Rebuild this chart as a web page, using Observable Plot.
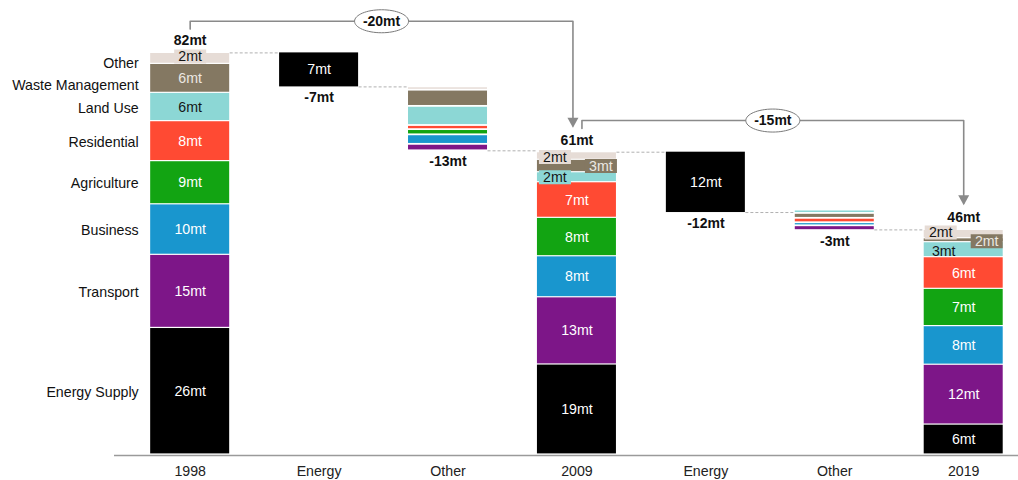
<!DOCTYPE html>
<html>
<head>
<meta charset="utf-8">
<script src="https://cdn.jsdelivr.net/npm/d3@7"></script>
<script src="https://cdn.jsdelivr.net/npm/@observablehq/plot@0.6"></script>
<style>
  body { margin: 0; background: #fff; }
  #chart { width: 1018px; height: 480px; }
</style>
</head>
<body>
<div id="chart"></div>
<script>
// ---------------- DATA ----------------
// sectors, bottom to top of each stacked bar
const categories = ["Energy Supply", "Transport", "Business", "Agriculture", "Residential", "Land Use", "Waste Management", "Other"];
const sectorColors = ["#000000", "#7D1688", "#1996CE", "#12A412", "#FF4A33", "#8CD7D5", "#847862", "#E6DCD6"];
const labelColors  = ["#ffffff", "#ffffff", "#ffffff", "#ffffff", "#ffffff", "#151515", "#ece8e2", "#151515"];

const columns = ["1998", "Energy", "Other", "2009", "Energy", "Other", "2019"];

const values1998 = [25.8, 14.9, 10.3, 8.8, 8.15, 5.77, 5.9, 2.24];
const labels1998 = ["26mt", "15mt", "10mt", "9mt", "8mt", "6mt", "6mt", "2mt"];
const values2009 = [18.35, 13.7, 8.36, 7.83, 7.26, 2.04, 2.53, 1.55];
const labels2009 = ["19mt", "13mt", "8mt", "8mt", "7mt", "2mt", "3mt", "2mt"];
const values2019 = [6.1, 12.2, 7.87, 7.6, 6.45, 3.06, 0.8, 1.7];
const labels2019 = ["6mt", "12mt", "8mt", "7mt", "6mt", "3mt", "2mt", "2mt"];
const totalLabels = ["82mt", "61mt", "46mt"];

const energyChanges = [6.93, 12.3];
const energyLabels = ["7mt", "12mt"];
// "Other" decreases, listed top to bottom
const other1Sectors = ["Other", "Waste Management", "Land Use", "Residential", "Agriculture", "Business", "Transport"];
const other1Values  = [0.67, 3.3, 3.9, 0.84, 1.06, 1.94, 1.32];
const other2Sectors = ["Land Use", "Waste Management", "Residential", "Business", "Transport"];
const other2Values  = [0.68, 1.0, 0.9, 0.62, 0.98];
const changeLabels = ["-7mt", "-13mt", "-12mt", "-3mt"];
const bracketLabels = ["-20mt", "-15mt"];

// ---------------- LAYOUT ----------------
const X_DOMAIN = [-0.587, 6.425], X_RANGE = [114, 1018];
const Y_DOMAIN = [0, 92.54], Y_RANGE = [454, 0];
const PXX = (X_RANGE[1] - X_RANGE[0]) / (X_DOMAIN[1] - X_DOMAIN[0]); // px per x unit
const PXY = (Y_RANGE[0] - Y_RANGE[1]) / (Y_DOMAIN[1] - Y_DOMAIN[0]); // px per y unit
const HALF = 39.5 / PXX;
const colorOf = s => sectorColors[categories.indexOf(s)];
const textColorOf = s => labelColors[categories.indexOf(s)];

// placement of labels of thin segments (px offsets)
const smallLabelPlacement = {
  "0|Other": {dx: 0, dy: -2, box: true},
  "3|Other": {dx: -22, dy: 1, box: true},
  "3|Waste Management": {dx: 24, dy: 0, box: true},
  "3|Land Use": {dx: -22, dy: 0, box: true},
  "6|Other": {dx: -23, dy: -1.5, box: true},
  "6|Waste Management": {dx: 23, dy: 1, box: true},
  "6|Land Use": {dx: -20, dy: 2, box: false}
};
const leftLabelDy = {"Other": 4, "Waste Management": 6};

// ---------------- BUILD ----------------
const segs = [];
function addTotal(col, vals, labs) {
  let c = 0;
  vals.forEach((v, i) => { segs.push({col, sector: categories[i], y1: c, y2: c + v, label: labs[i], kind: "total"}); c += v; });
  return c;
}
function addDown(col, sectors, vals, start) {
  let c = start;
  sectors.forEach((s, i) => { segs.push({col, sector: s, y1: c - vals[i], y2: c, kind: "change"}); c -= vals[i]; });
  return c;
}
const t1998 = addTotal(0, values1998, labels1998);
const e1End = addDown(1, ["Energy Supply"], [energyChanges[0]], t1998);
const o1End = addDown(2, other1Sectors, other1Values, e1End);
const t2009 = addTotal(3, values2009, labels2009);
const e2End = addDown(4, ["Energy Supply"], [energyChanges[1]], t2009);
const o2End = addDown(5, other2Sectors, other2Values, e2End + 0.5);
const t2019 = addTotal(6, values2019, labels2019);

const connectorLevels = [t1998, e1End, o1End, t2009, e2End, t2019];
const connectors = connectorLevels.map((y, i) => ({x1: i + HALF, x2: i + 1 - HALF, y}));

const totals = [{col: 0, y: t1998, label: totalLabels[0]}, {col: 3, y: t2009, label: totalLabels[1]}, {col: 6, y: t2019, label: totalLabels[2]}];
const changes = [{col: 1, y: e1End, label: changeLabels[0]}, {col: 2, y: o1End, label: changeLabels[1]},
                 {col: 4, y: e2End, label: changeLabels[2]}, {col: 5, y: o2End, label: changeLabels[3]}];
const energyInner = [{col: 1, y: (t1998 + e1End) / 2, label: energyLabels[0]}, {col: 4, y: (t2009 + e2End) / 2, label: energyLabels[1]}];

// segment labels
const segLabels = segs.filter(d => d.kind === "total").map(d => {
  const p = smallLabelPlacement[d.col + "|" + d.sector];
  return {
    x: d.col + (p ? p.dx / PXX : 0),
    y: (d.y1 + d.y2) / 2 - (p ? p.dy / PXY : 0),
    label: d.label,
    color: textColorOf(d.sector),
    box: p && p.box ? colorOf(d.sector) : null
  };
});
const leftLabels = segs.filter(d => d.col === 0).map(d => ({
  y: (d.y1 + d.y2) / 2 - (1 + (leftLabelDy[d.sector] || 0)) / PXY,
  label: d.sector
}));

// brackets
const BR_START = 4.85, BR_LINE = 6.45, BR_TIP = 5.0;
const bracketDefs = [
  {from: 0, to: 3, fromTop: t1998, toTop: t2009, fdx: 0, tdx: -4, label: bracketLabels[0]},
  {from: 3, to: 6, fromTop: t2009, toTop: t2019, fdx: 5, tdx: 0, label: bracketLabels[1]}
];
const bracketPts = [];
const bracketTips = [];
const bracketMid = [];
bracketDefs.forEach((b, k) => {
  const xa = b.from + b.fdx / PXX, xb = b.to + b.tdx / PXX, yl = b.fromTop + BR_LINE;
  bracketPts.push({k, x: xa, y: b.fromTop + BR_START}, {k, x: xa, y: yl}, {k, x: xb, y: yl}, {k, x: xb, y: b.toTop + BR_TIP + 2 / PXY});
  bracketTips.push({x: xb, y: b.toTop + BR_TIP});
  bracketMid.push({x: (xa + xb) / 2, y: yl, label: b.label});
});

// custom symbols
const boxSymbol = {draw(ctx) { ctx.moveTo(-16, -7); ctx.lineTo(16, -7); ctx.lineTo(16, 7); ctx.lineTo(-16, 7); ctx.closePath(); }};
const tipSymbol = {draw(ctx) { ctx.moveTo(-5.5, -10); ctx.lineTo(5.5, -10); ctx.lineTo(0, 0); ctx.closePath(); }};
const ellipseSymbol = {draw(ctx) {
  const rx = 27, ry = 11.5, k = 0.5523;
  ctx.moveTo(rx, 0);
  ctx.bezierCurveTo(rx, ry * k, rx * k, ry, 0, ry);
  ctx.bezierCurveTo(-rx * k, ry, -rx, ry * k, -rx, 0);
  ctx.bezierCurveTo(-rx, -ry * k, -rx * k, -ry, 0, -ry);
  ctx.bezierCurveTo(rx * k, -ry, rx, -ry * k, rx, 0);
  ctx.closePath();
}};

const FONT = "'Liberation Sans', Arial, Helvetica, sans-serif";
const FS = 14.2;

const chart = Plot.plot({
  width: 1018,
  height: 480,
  marginLeft: 114,
  marginRight: 0,
  marginTop: 0,
  marginBottom: 26,
  style: {fontFamily: FONT, fontSize: FS + "px", background: "#fff", overflow: "visible"},
  x: {domain: X_DOMAIN, range: X_RANGE, axis: null},
  y: {domain: Y_DOMAIN, range: Y_RANGE, axis: null},
  color: {type: "identity"},
  marks: [
    // dashed connectors
    Plot.link(connectors, {x1: "x1", x2: "x2", y1: "y", y2: "y", stroke: "#b0b0b0", strokeWidth: 1, strokeDasharray: "3,2"}),
    // stacked totals
    Plot.rect(segs.filter(d => d.kind === "total"), {
      x1: d => d.col - HALF, x2: d => d.col + HALF, y1: "y1", y2: "y2",
      fill: d => colorOf(d.sector), insetTop: 0.6, insetBottom: 0.6
    }),
    // energy change bars
    Plot.rect(segs.filter(d => d.kind === "change" && (d.col === 1 || d.col === 4)), {
      x1: d => d.col - HALF, x2: d => d.col + HALF, y1: "y1", y2: "y2", fill: d => colorOf(d.sector)
    }),
    // other change bars
    Plot.rect(segs.filter(d => d.kind === "change" && (d.col === 2 || d.col === 5)), {
      x1: d => d.col - HALF, x2: d => d.col + HALF, y1: "y1", y2: "y2",
      fill: d => colorOf(d.sector), insetTop: 0.9, insetBottom: 0.9
    }),
    // axis line
    Plot.ruleY([0], {stroke: "#9a9a9a", strokeWidth: 1.6, dy: 1}),
    // brackets
    Plot.line(bracketPts, {x: "x", y: "y", z: "k", stroke: "#8a8a8a", strokeWidth: 1.6, curve: "linear"}),
    Plot.dot(bracketTips, {x: "x", y: "y", symbol: tipSymbol, fill: "#8a8a8a", stroke: "none"}),
    Plot.dot(bracketMid, {x: "x", y: "y", symbol: ellipseSymbol, fill: "#fff", stroke: "#7a7a7a", strokeWidth: 1}),
    Plot.text(bracketMid, {x: "x", y: "y", text: "label", fontWeight: "bold", fontSize: 14, fill: "#111"}),
    // label boxes for thin segments
    Plot.dot(segLabels.filter(d => d.box), {x: "x", y: "y", symbol: boxSymbol, fill: "box", stroke: "none"}),
    // segment labels
    Plot.text(segLabels, {x: "x", y: "y", text: "label", fill: "color", fontSize: FS}),
    Plot.text(energyInner, {x: "col", y: "y", text: "label", fill: "#fff", fontSize: FS}),
    // totals & changes
    Plot.text(totals, {x: "col", y: "y", text: "label", dy: -12, fontWeight: "bold", fontSize: 14, fill: "#111"}),
    Plot.text(changes, {x: "col", y: "y", text: "label", dy: 11, fontWeight: "bold", fontSize: 14, fill: "#111"}),
    // left sector labels
    Plot.text(leftLabels, {x: -HALF - 12 / PXX, y: "y", text: "label", textAnchor: "end", fill: "#111", fontSize: FS}),
    // x axis labels
    Plot.axisX({ticks: d3.range(columns.length), tickFormat: i => columns[i], tickSize: 0, tickPadding: 11, label: null, fontSize: FS, fill: "#222"})
  ]
});
document.getElementById("chart").appendChild(chart);
</script>
</body>
</html>
